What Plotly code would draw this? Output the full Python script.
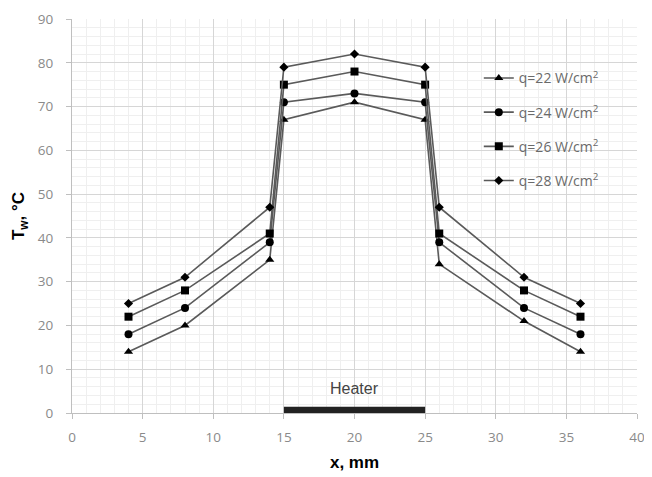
import plotly.graph_objects as go

x_mm = [4, 8, 14, 15, 20, 25, 26, 32, 36]
series_names = ["q=22 W/cm<sup>2</sup>", "q=24 W/cm<sup>2</sup>",
                "q=26 W/cm<sup>2</sup>", "q=28 W/cm<sup>2</sup>"]
t_q22 = [14, 20, 35, 67, 71, 67, 34, 21, 14]
t_q24 = [18, 24, 39, 71, 73, 71, 39, 24, 18]
t_q26 = [22, 28, 41, 75, 78, 75, 41, 28, 22]
t_q28 = [25, 31, 47, 79, 82, 79, 47, 31, 25]
heater_start, heater_end = 15, 25
heater_label = "Heater"

series = [t_q22, t_q24, t_q26, t_q28]
symbols = ["triangle-up", "circle", "square", "diamond"]
msizes = [8, 8, 8, 7]

fig = go.Figure()
for i, (name, ys) in enumerate(zip(series_names, series)):
    fig.add_trace(go.Scatter(
        x=x_mm, y=ys, name=name, mode="lines+markers",
        legendgroup=f"g{i}",
        line=dict(color="#5a5a5a", width=1.6),
        marker=dict(symbol=symbols[i], size=msizes[i], color="black"),
    ))

fig.add_shape(type="rect", xref="x", yref="y",
              x0=heater_start, x1=heater_end, y0=0, y1=1.4,
              fillcolor="#222222", line=dict(width=0))
fig.add_annotation(x=(heater_start + heater_end) / 2, y=5.6, text=heater_label,
                   showarrow=False, font=dict(size=16, color="#444444",
                                              family="Liberation Sans"))

axis_common = dict(
    showgrid=True, gridcolor="#d6d6d6", gridwidth=1,
    minor=dict(showgrid=True, gridcolor="#efefef", gridwidth=1),
    showline=True, linecolor="#bfbfbf", linewidth=1,
    ticks="outside", tickcolor="#bfbfbf", ticklen=5,
    tickfont=dict(size=13.5, color="#8a8a8a", family="Open Sans"),
    zeroline=False, automargin=False, ticklabeloverflow="allow",
)

fig.update_xaxes(range=[0, 40], tick0=0, dtick=5, minor_dtick=1,
                 ticklabelstandoff=7,
                 title=dict(text="<b>x, mm</b>", font=dict(size=17, color="black",
                                                           family="Liberation Sans"),
                            standoff=10),
                 **axis_common)
fig.update_yaxes(range=[0, 90], dtick=10, minor_dtick=2,
                 ticklabelstandoff=10,
                 title=dict(text="<b>T<sub>w</sub>, °C</b>",
                            font=dict(size=17, color="black", family="Liberation Sans"),
                            standoff=8),
                 **axis_common)

# page body has an 8px margin, so the figure is sized to fit inside the window
fig.update_layout(
    width=644, height=469,
    margin=dict(l=64, r=15, t=11, b=64),
    plot_bgcolor="white", paper_bgcolor="white",
    legend=dict(x=0.72, y=0.89, xanchor="left", yanchor="top",
                bgcolor="rgba(255,255,255,0)",
                font=dict(size=14, color="#6a6a6a", family="Open Sans"),
                traceorder="grouped", tracegroupgap=13),
)

fig.write_html("out.html")
